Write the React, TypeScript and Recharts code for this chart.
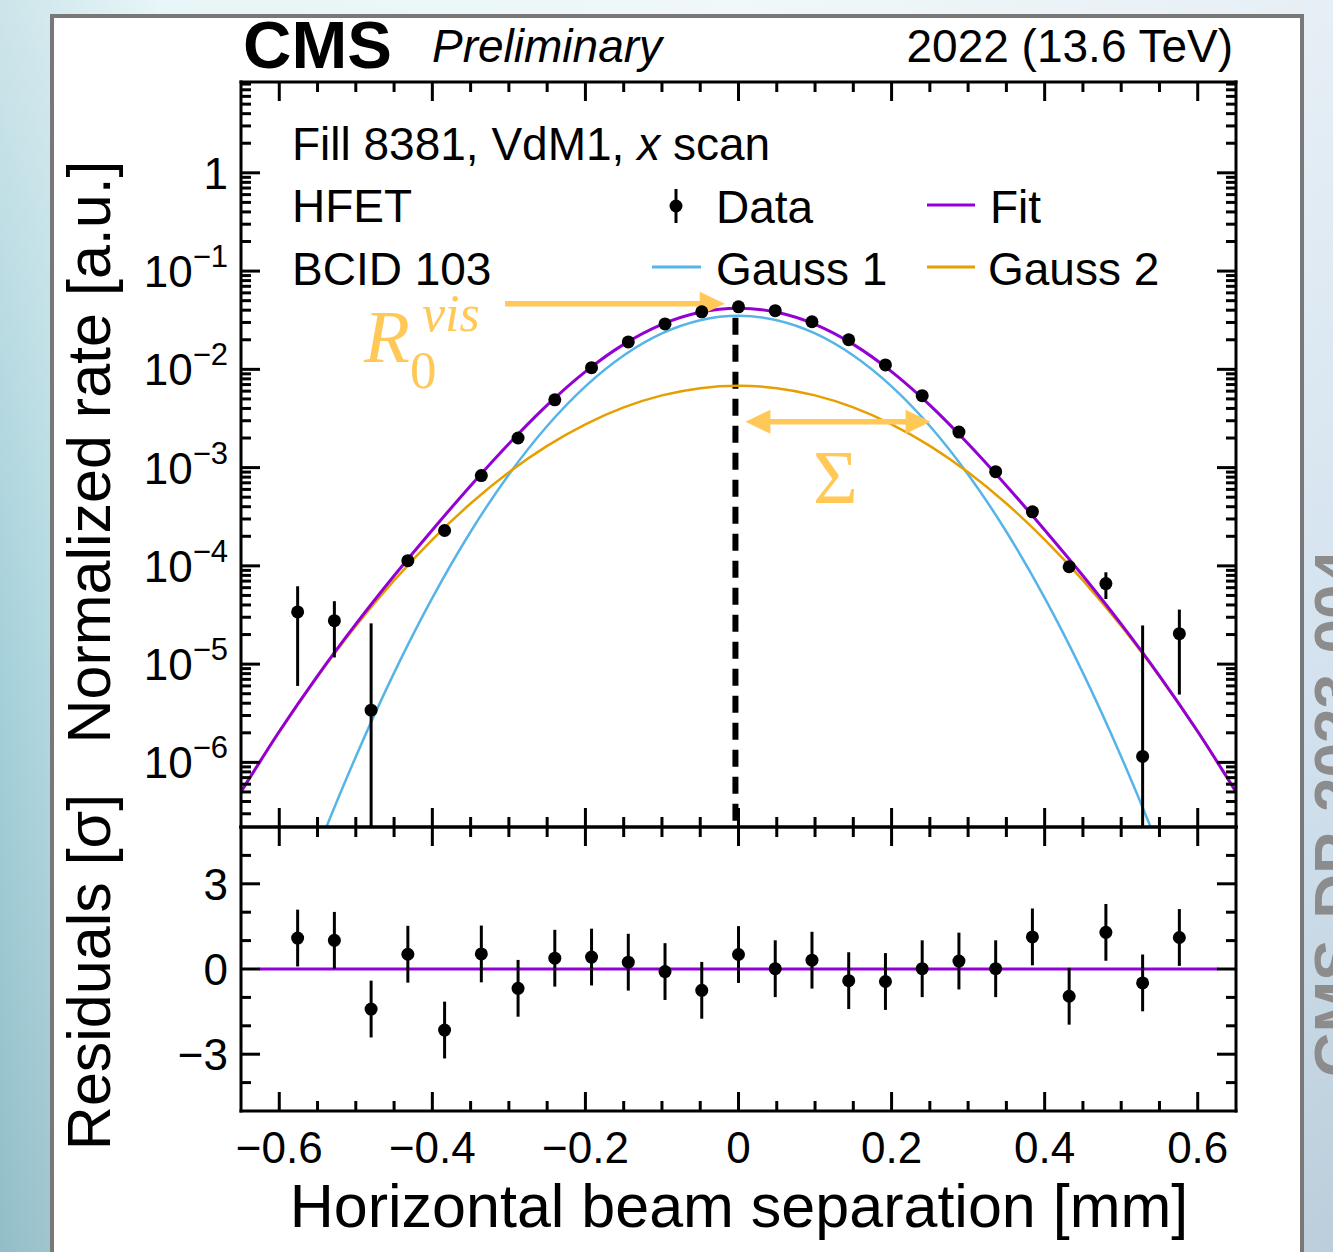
import React from "react";
import { ComposedChart, Line, Scatter, XAxis, YAxis, ErrorBar, ReferenceLine } from "recharts";

const FONT = '"Liberation Sans", Arial, Helvetica, sans-serif';
const SERIF = '"Liberation Serif", "Times New Roman", serif';
const GOLD = "#FFC857";
const PURPLE = "#9400D3";
const BLUE = "#56B4E9";
const ORANGE = "#E69F00";

// scan steps and measured rates
const SEP = [-0.576, -0.528, -0.48, -0.432, -0.384, -0.336, -0.288, -0.24, -0.192, -0.144, -0.096, -0.048, 0,
  0.048, 0.096, 0.144, 0.192, 0.24, 0.288, 0.336, 0.384, 0.432, 0.48, 0.528, 0.576];
const RATE = [3.4e-5, 2.77e-5, 3.4e-6, 1.13e-4, 2.29e-4, 8.3e-4, 2.0e-3, 4.9e-3, 1.04e-2, 1.9e-2, 2.9e-2, 3.85e-2, 4.33e-2,
  3.95e-2, 3.05e-2, 2.0e-2, 1.11e-2, 5.4e-3, 2.3e-3, 9.1e-4, 3.55e-4, 9.8e-5, 6.6e-5, 1.15e-6, 2.04e-5];
const RATE_ERR = [2.8e-5, 1.6e-5, 2.26e-5, 1.2e-5, 1.5e-5, 3e-5, 5e-5, 8e-5, 1.2e-4, 1.6e-4, 2e-4, 2.3e-4, 2.4e-4,
  2.3e-4, 2e-4, 1.6e-4, 1.2e-4, 8e-5, 5e-5, 3e-5, 1.5e-5, 1.2e-5, 2e-5, 2.36e-5, 1.55e-5];
const RESID = [1.09, 1.01, -1.41, 0.52, -2.15, 0.53, -0.68, 0.38, 0.42, 0.24, -0.09, -0.75, 0.51,
  0.01, 0.31, -0.41, -0.44, 0.01, 0.28, 0.01, 1.13, -0.96, 1.29, -0.49, 1.11];
const RESID_ERR = [1, 1, 1, 1, 1, 1, 1, 1, 1, 1, 1, 1, 1, 1, 1, 1, 1, 1, 1, 1, 1, 1, 1, 1, 1];

// fit curves
const CURVE_X = [-0.65, -0.6, -0.55, -0.5, -0.45, -0.4, -0.35, -0.3, -0.25, -0.2, -0.15, -0.1, -0.05, 0,
  0.05, 0.1, 0.15, 0.2, 0.25, 0.3, 0.35, 0.4, 0.45, 0.5, 0.55, 0.6, 0.65];
const FIT = [5.01e-7, 2.06e-6, 7.6e-6, 2.55e-5, 7.93e-5, 2.32e-4, 6.54e-4, 1.748e-3, 4.32e-3, 9.48e-3, 1.795e-2, 2.87e-2, 3.81e-2, 4.19e-2,
  3.81e-2, 2.87e-2, 1.795e-2, 9.48e-3, 4.32e-3, 1.748e-3, 6.54e-4, 2.32e-4, 7.93e-5, 2.55e-5, 7.6e-6, 2.06e-6, 5.01e-7];
const GAUSS1 = [9.2e-10, 1.22e-8, 1.31e-7, 1.144e-6, 8.15e-6, 4.72e-5, 2.225e-4, 8.52e-4, 2.653e-3, 6.72e-3, 1.385e-2, 2.322e-2, 3.166e-2, 3.51e-2,
  3.166e-2, 2.322e-2, 1.385e-2, 6.72e-3, 2.653e-3, 8.52e-4, 2.225e-4, 4.72e-5, 8.15e-6, 1.144e-6, 1.31e-7, 1.22e-8, 9.2e-10];
const GAUSS2 = [5.01e-7, 2.05e-6, 7.47e-6, 2.44e-5, 7.11e-5, 1.851e-4, 4.31e-4, 8.96e-4, 1.664e-3, 2.76e-3, 4.1e-3, 5.43e-3, 6.43e-3, 6.8e-3,
  6.43e-3, 5.43e-3, 4.1e-3, 2.76e-3, 1.664e-3, 8.96e-4, 4.31e-4, 1.851e-4, 7.11e-5, 2.44e-5, 7.47e-6, 2.05e-6, 5.01e-7];
const FIT_RANGE = [-0.626, 0.626];

const X_DOMAIN: [number, number] = [-0.65, 0.65];
const Y_DOMAIN: [number, number] = [2.2e-7, 8.4];
const RES_DOMAIN: [number, number] = [-5, 5];
const X_TICKS = [-0.6, -0.55, -0.5, -0.45, -0.4, -0.35, -0.3, -0.25, -0.2, -0.15, -0.1, -0.05, 0,
  0.05, 0.1, 0.15, 0.2, 0.25, 0.3, 0.35, 0.4, 0.45, 0.5, 0.55, 0.6];
const X_MAJOR = [-0.6, -0.4, -0.2, 0, 0.2, 0.4, 0.6];
const X_LABELS = ["\u22120.6", "\u22120.4", "\u22120.2", "0", "0.2", "0.4", "0.6"];
const RES_TICKS = [-4, -3, -2, -1, 0, 1, 2, 3, 4];
const RES_MAJOR = [-3, 0, 3];
const RES_LABELS = ["\u22123", "0", "3"];
const LOG_DECADES = [-7, -6, -5, -4, -3, -2, -1, 0];
const LOG_TICKS = LOG_DECADES.flatMap((e) => [1, 2, 3, 4, 5, 6, 7, 8, 9].map((m) => m * Math.pow(10, e)))
  .filter((v) => v >= Y_DOMAIN[0] && v <= Y_DOMAIN[1]);

// annotation anchors (data coords)
const R0_ARROW = [{ x: -0.305, y: 0.0465 }, { x: -0.018, y: 0.0465 }];
const SIGMA_ARROW = [{ x: 0.009, y: 2.93e-3 }, { x: 0.251, y: 2.93e-3 }];
const MEAN_LINE = [{ x: -0.004, y: 0.0335 }, { x: -0.004, y: 2.2e-7 }];

type Side = "bottom" | "top" | "left" | "right";
const AXIS = { stroke: "#000", strokeWidth: 3, strokeLinecap: "square" as const };

const near = (list: number[], v: number) => list.findIndex((m) => Math.abs(m - v) < 1e-6);
const isDecade = (v: number) => Math.abs(Math.log10(v) - Math.round(Math.log10(v))) < 1e-6;

function makeTick(side: Side, isMajor: (v: number) => boolean, label?: (v: number, x: number, y: number) => React.ReactNode) {
  return (props: any) => {
    const { x, y, payload } = props;
    const v = payload.value as number;
    const major = isMajor(v);
    const len = major ? 19 : 10;
    const d = side === "bottom" ? [0, -len] : side === "top" ? [0, len] : side === "left" ? [len, 0] : [-len, 0];
    return (
      <g>
        <line x1={x} y1={y} x2={x + d[0]} y2={y + d[1]} stroke="#000" strokeWidth={3} />
        {major && label ? label(v, x, y) : null}
      </g>
    );
  };
}

const logLabel = (v: number, x: number, y: number) => {
  const e = Math.round(Math.log10(v));
  return (
    <text x={x - 13} y={y + 16} textAnchor="end" fontFamily={FONT} fontSize={44} fill="#000">
      {e === 0 ? "1" : (
        <>
          10<tspan dy={-20} fontSize={31}>{"\u2212" + Math.abs(e)}</tspan>
        </>
      )}
    </text>
  );
};
const resLabel = (v: number, x: number, y: number) => (
  <text x={x - 13} y={y + 16} textAnchor="end" fontFamily={FONT} fontSize={44} fill="#000">
    {RES_LABELS[near(RES_MAJOR, v)]}
  </text>
);
const xLabel = (v: number, x: number, y: number) => (
  <text x={x} y={y + 52} textAnchor="middle" fontFamily={FONT} fontSize={44} fill="#000">
    {X_LABELS[near(X_MAJOR, v)]}
  </text>
);

const arrowShape = (both: boolean) => (p: any) => {
  const { x1, y1, x2, y2 } = p;
  const L = 25, H = 12;
  const dir = x2 >= x1 ? 1 : -1;
  return (
    <g>
      <line x1={both ? x1 + dir * L * 0.7 : x1} y1={y1} x2={x2 - dir * L * 0.7} y2={y2} stroke={GOLD} strokeWidth={5.5} />
      <polygon points={`${x2},${y2} ${x2 - dir * L},${y2 - H} ${x2 - dir * L},${y2 + H}`} fill={GOLD} />
      {both && <polygon points={`${x1},${y1} ${x1 + dir * L},${y1 - H} ${x1 + dir * L},${y1 + H}`} fill={GOLD} />}
    </g>
  );
};

const dot = (p: any) => <circle cx={p.cx} cy={p.cy} r={6.5} fill="#000" />;

const isMajorX = (v: number) => near(X_MAJOR, v) >= 0;
const isMajorRes = (v: number) => near(RES_MAJOR, v) >= 0;

export default function App() {
  const curve = CURVE_X.map((x, i) => ({ x, fit: FIT[i], g1: GAUSS1[i], g2: GAUSS2[i] }));
  // error bars that reach below the frame stop at the lower edge of the axis
  const points = SEP.map((x, i) => {
    const lo = Math.max(RATE[i] - RATE_ERR[i], Y_DOMAIN[0]);
    return { x, y: RATE[i], err: [RATE[i] - lo, RATE_ERR[i]] };
  });
  const resid = SEP.map((x, i) => ({ x, y: RESID[i], err: RESID_ERR[i] }));
  const zero = FIT_RANGE.map((x) => ({ x, y: 0 }));

  const xCommon = {
    dataKey: "x", type: "number" as const, domain: X_DOMAIN, allowDataOverflow: true, ticks: X_TICKS,
    interval: 0 as const, tickSize: 0, tickMargin: 0, tickLine: false, axisLine: AXIS, height: 10,
  };

  return (
    <div style={{
      position: "absolute", left: 0, top: 0, width: 1333, height: 1252, overflow: "hidden",
      background: "linear-gradient(to bottom, rgba(255,255,255,0.45), rgba(255,255,255,0) 55%, rgba(20,60,80,0.12)), linear-gradient(to right, #a3cfd9, #d3eef1 12%, #e4f2f5 55%, #d3e2ee)",
    }}>
      <div style={{ position: "absolute", left: 50, top: 14, width: 1246, height: 1300, background: "#fff", border: "4px solid #787878" }} />
      <svg width={1333} height={1252} style={{ position: "absolute", left: 0, top: 0 }}>
        <text transform="rotate(-90 1357 550)" x={1357} y={550} textAnchor="end" fontFamily={FONT} fontWeight="bold" fontSize={62} fill="#8c8c8c">CMS-DP-2023-004</text>
      </svg>

      {/* upper panel: normalized rate */}
      <div style={{ position: "absolute", left: 0, top: 0 }}>
        <ComposedChart width={1333} height={1252} margin={{ top: 72, right: 87, bottom: 415, left: 201 }}>
          <XAxis xAxisId="b" orientation="bottom" {...xCommon} tick={makeTick("bottom", isMajorX)} />
          <XAxis xAxisId="t" orientation="top" {...xCommon} tick={makeTick("top", isMajorX)} />
          <YAxis yAxisId="l" orientation="left" dataKey="y" type="number" scale="log" domain={Y_DOMAIN} allowDataOverflow
            ticks={LOG_TICKS} interval={0} tickSize={0} tickMargin={0} tickLine={false} axisLine={AXIS} width={40}
            tick={makeTick("left", isDecade, logLabel)} />
          <YAxis yAxisId="r" orientation="right" dataKey="y" type="number" scale="log" domain={Y_DOMAIN} allowDataOverflow
            ticks={LOG_TICKS} interval={0} tickSize={0} tickMargin={0} tickLine={false} axisLine={AXIS} width={10}
            tick={makeTick("right", isDecade)} />
          <ReferenceLine xAxisId="b" yAxisId="l" segment={MEAN_LINE} stroke="#000" strokeWidth={6} strokeDasharray="17 10" />
          <Line xAxisId="b" yAxisId="l" data={curve} dataKey="g1" type="monotone" stroke={BLUE} strokeWidth={2.5} dot={false} isAnimationActive={false} />
          <Line xAxisId="b" yAxisId="l" data={curve} dataKey="g2" type="monotone" stroke={ORANGE} strokeWidth={2.5} dot={false} isAnimationActive={false} />
          <Line xAxisId="b" yAxisId="l" data={curve} dataKey="fit" type="monotone" stroke={PURPLE} strokeWidth={3} dot={false} isAnimationActive={false} />
          <ReferenceLine xAxisId="b" yAxisId="l" segment={SIGMA_ARROW} shape={arrowShape(true)} />
          <Scatter xAxisId="b" yAxisId="l" data={points} shape={dot} isAnimationActive={false}>
            <ErrorBar dataKey="err" direction="y" width={0} stroke="#000" strokeWidth={3} />
          </Scatter>
          <ReferenceLine xAxisId="b" yAxisId="l" segment={R0_ARROW} shape={arrowShape(false)} />
        </ComposedChart>
      </div>

      {/* lower panel: residuals */}
      <div style={{ position: "absolute", left: 0, top: 0 }}>
        <ComposedChart width={1333} height={1252} margin={{ top: 817, right: 87, bottom: 131, left: 201 }}>
          <XAxis xAxisId="b" orientation="bottom" {...xCommon} tick={makeTick("bottom", isMajorX, xLabel)} />
          <XAxis xAxisId="t" orientation="top" {...xCommon} tick={makeTick("top", isMajorX)} />
          <YAxis yAxisId="l" orientation="left" dataKey="y" type="number" domain={RES_DOMAIN} allowDataOverflow
            ticks={RES_TICKS} interval={0} tickSize={0} tickMargin={0} tickLine={false} axisLine={AXIS} width={40}
            tick={makeTick("left", isMajorRes, resLabel)} />
          <YAxis yAxisId="r" orientation="right" dataKey="y" type="number" domain={RES_DOMAIN} allowDataOverflow
            ticks={RES_TICKS} interval={0} tickSize={0} tickMargin={0} tickLine={false} axisLine={AXIS} width={10}
            tick={makeTick("right", isMajorRes)} />
          <Line xAxisId="b" yAxisId="l" data={zero} dataKey="y" stroke={PURPLE} strokeWidth={3} dot={false} isAnimationActive={false} />
          <Scatter xAxisId="b" yAxisId="l" data={resid} shape={dot} isAnimationActive={false}>
            <ErrorBar dataKey="err" direction="y" width={0} stroke="#000" strokeWidth={3} />
          </Scatter>
        </ComposedChart>
      </div>

      {/* texts */}
      <svg width={1333} height={1252} style={{ position: "absolute", left: 0, top: 0, pointerEvents: "none" }} fontFamily={FONT}>
        <text x={243} y={68} fontSize={67} fontWeight="bold">CMS</text>
        <text x={432} y={62} fontSize={46} fontStyle="italic">Preliminary</text>
        <text x={1233} y={62} fontSize={46} textAnchor="end">2022 (13.6 TeV)</text>
        <text x={292} y={160} fontSize={46}>Fill 8381, VdM1, <tspan fontStyle="italic">x</tspan> scan</text>
        <text x={292} y={222} fontSize={46}>HFET</text>
        <text x={292} y={285} fontSize={46}>BCID 103</text>

        <line x1={676} y1={189} x2={676} y2={223} stroke="#000" strokeWidth={3} />
        <circle cx={676} cy={206} r={6.5} fill="#000" />
        <text x={716} y={223} fontSize={46}>Data</text>
        <line x1={927} y1={205} x2={975} y2={205} stroke={PURPLE} strokeWidth={3} />
        <text x={990} y={223} fontSize={46}>Fit</text>
        <line x1={652} y1={267} x2={701} y2={267} stroke={BLUE} strokeWidth={3} />
        <text x={716} y={285} fontSize={46}>Gauss 1</text>
        <line x1={927} y1={267} x2={975} y2={267} stroke={ORANGE} strokeWidth={3} />
        <text x={988} y={285} fontSize={46}>Gauss 2</text>

        <text x={364} y={362} fontFamily={SERIF} fontStyle="italic" fontSize={75} fill={GOLD}>R</text>
        <text x={422} y={331} fontFamily={SERIF} fontStyle="italic" fontSize={52} fill={GOLD}>vis</text>
        <text x={410} y={388} fontFamily={SERIF} fontSize={53} fill={GOLD}>0</text>
        <text x={813} y={503} fontFamily={SERIF} fontSize={77} fill={GOLD}>Σ</text>

        <text x={110} y={452} fontSize={61} textAnchor="middle" transform="rotate(-90 110 452)">Normalized rate [a.u.]</text>
        <text x={110} y={972} fontSize={61} textAnchor="middle" transform="rotate(-90 110 972)">Residuals [σ]</text>
        <text x={739} y={1227} fontSize={61} textAnchor="middle">Horizontal beam separation [mm]</text>
      </svg>
    </div>
  );
}
